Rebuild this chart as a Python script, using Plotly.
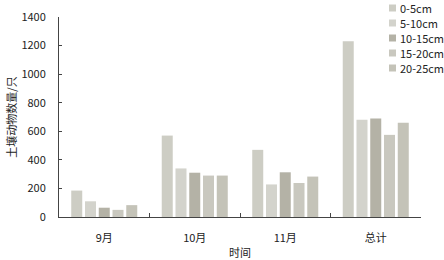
import plotly.graph_objects as go

categories = ["9月", "10月", "11月", "总计"]
series_names = ["0-5cm", "5-10cm", "10-15cm", "15-20cm", "20-25cm"]
v_0_5 = [185, 570, 470, 1230]
v_5_10 = [110, 340, 228, 680]
v_10_15 = [65, 310, 313, 690]
v_15_20 = [50, 290, 238, 575]
v_20_25 = [83, 290, 283, 660]
values = [v_0_5, v_5_10, v_10_15, v_15_20, v_20_25]
colors = ["#cdcdc4", "#d3d3cc", "#b4b2a6", "#c9c8bf", "#c4c3b8"]

font_fam = "Noto Sans CJK SC, Noto Sans, sans-serif"
W, H = 444, 260
ML, MR, MT, MB = 59, 23, 17, 43

fig = go.Figure()
for name, vals, col in zip(series_names, values, colors):
    fig.add_trace(go.Bar(x=categories, y=vals, name=name, showlegend=False,
                         marker=dict(color=col, line=dict(width=0))))

# custom compact legend (paper coords)
pw, ph = W - ML - MR, H - MT - MB
def px_x(p):
    return (p - ML) / pw
def px_y(p):
    return (H - MB - p) / ph
for i, (name, col) in enumerate(zip(series_names, colors)):
    cy = 8 + 15 * i
    fig.add_shape(type="rect", xref="paper", yref="paper",
                  x0=px_x(389), x1=px_x(396), y0=px_y(cy + 3.5), y1=px_y(cy - 3.5),
                  fillcolor=col, line=dict(width=0))
    fig.add_annotation(xref="paper", yref="paper", x=px_x(398), y=px_y(cy),
                       text=name, showarrow=False, xanchor="left", yanchor="middle",
                       width=46, align="left",
                       font=dict(size=11, color="#222"))

fig.update_layout(
    width=W, height=H,
    margin=dict(l=ML, r=MR, t=MT, b=MB, autoexpand=False),
    paper_bgcolor="white", plot_bgcolor="white",
    barmode="group", bargap=0.24, bargroupgap=0.2,
    font=dict(family=font_fam, size=11, color="#222"),
    showlegend=False,
)
fig.update_xaxes(
    showline=True, linecolor="#444", linewidth=1,
    ticks="inside", tickson="boundaries", ticklen=4, tickcolor="#444",
    title=dict(text="时间", font=dict(size=11), standoff=7),
    tickfont=dict(size=11), ticklabelstandoff=11,
)
fig.update_yaxes(
    range=[0, 1400], dtick=200, showgrid=False,
    showline=True, linecolor="#444", linewidth=1,
    ticks="inside", ticklen=3, tickcolor="#444",
    title=dict(text="土壤动物数量/只", font=dict(size=11), standoff=2),
    tickfont=dict(size=11), zeroline=False, ticklabelstandoff=10,
)
fig.write_html("out.html", config={"displayModeBar": False},
               post_script="document.body.style.margin='0';document.body.style.overflow='hidden';")
